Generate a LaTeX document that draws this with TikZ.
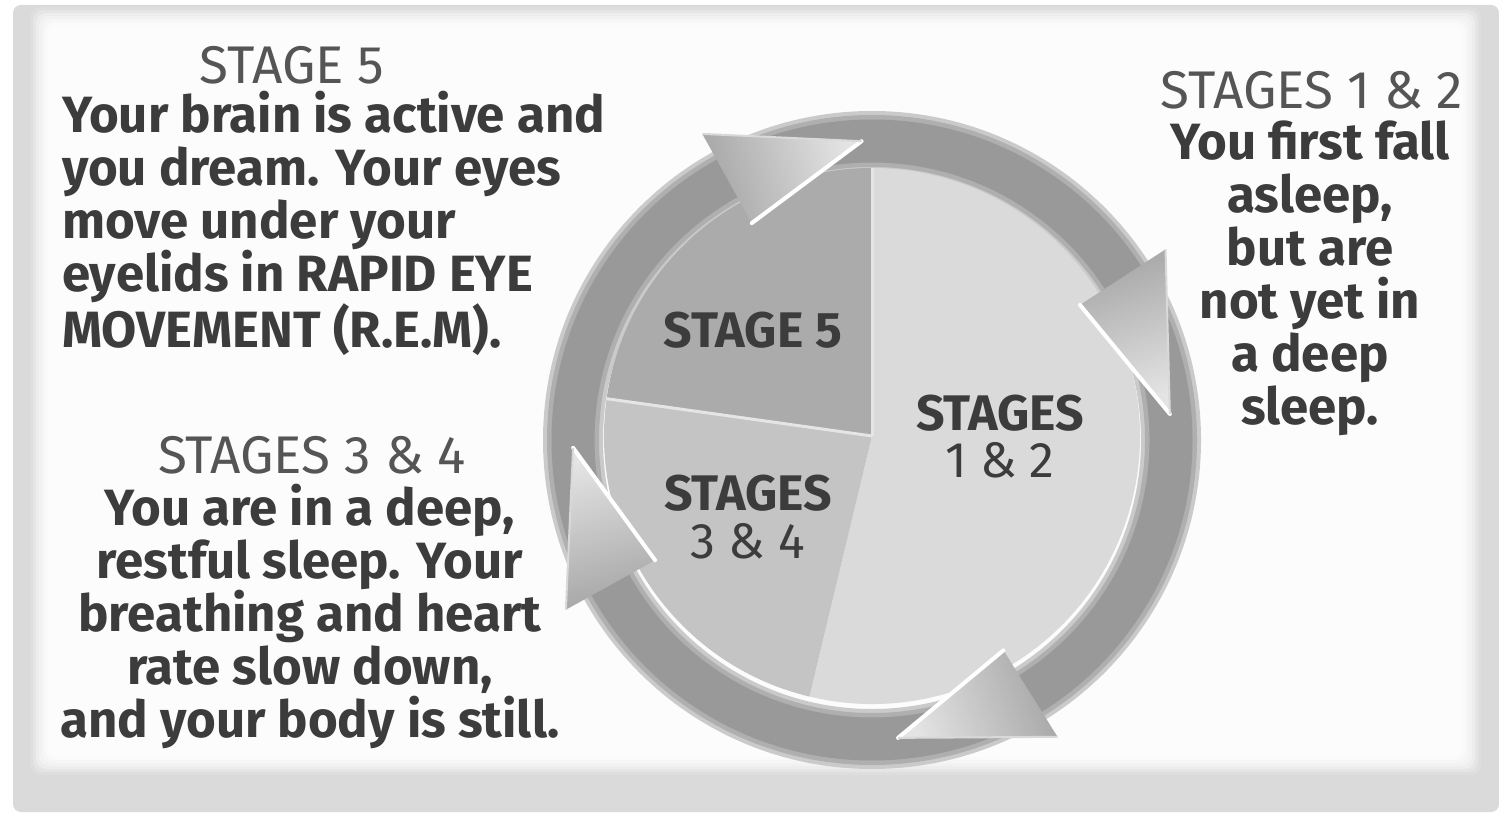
\documentclass[tikz,border=0pt]{standalone}
\usepackage{fontspec}
\setmainfont{Fira Sans}
\usetikzlibrary{calc}
\definecolor{bodytxt}{HTML}{3C3C3C}
\definecolor{headtxt}{HTML}{555555}
\definecolor{sfive}{HTML}{ABABAB}
\definecolor{sthree}{HTML}{C4C4C4}
\definecolor{sone}{HTML}{DADADA}
\definecolor{ringc}{HTML}{999999}
\definecolor{ringedge}{HTML}{CACACA}
\definecolor{headlight}{HTML}{E4E4E4}
\definecolor{headdark}{HTML}{A6A6A6}
\definecolor{framec}{HTML}{DADADA}
\newcommand\arrhead[3]{%
  \begin{scope}[shift={(R)}]
    \shade[top color=headlight, bottom color=headdark, shading angle=#3] (#1:350) -- (#2:299) -- (#1:248) -- cycle;
    \draw[white, line width=4, line cap=round] (#1:248) -- (#2:299);
    \draw[white!70!gray, line width=2] (#1:350) -- (#2:299);
  \end{scope}}
\begin{document}
\begin{tikzpicture}[x=1pt,y=1pt,
  body/.style={text=bodytxt, font=\fontsize{51}{53}\selectfont\bfseries, inner sep=0pt},
  headtext/.style={text=headtxt, font=\fontsize{53}{53}\selectfont, inner sep=0pt},
  pielab/.style={text=bodytxt, font=\fontsize{50}{48}\selectfont\bfseries, inner sep=0pt, align=center},
]
\useasboundingbox (0,0) rectangle (1499,812);
\fill[white] (0,0) rectangle (1499,812);
\fill[framec, rounded corners=8] (13,0) rectangle (1499,807);
\foreach \i/\c in {0/13,1/10,2/7,3/5,4/3.5,5/2,6/1} {
  \fill[black!\c, rounded corners=10] (30+\i*3,37+\i*3) rectangle (1481-\i*3,805-\i*3);
}
% ring
\coordinate (R) at (872,372);
\coordinate (P) at (872,376);
\draw[ringedge, line width=60] (R) circle[radius=299];
\draw[ringc!55!ringedge, line width=52] (R) circle[radius=299];
\draw[ringc, line width=43] (R) circle[radius=299];
% pie
\fill[sone] (P) -- ++(256.5:268) arc[start angle=256.5, end angle=450, radius=268] -- cycle;
\fill[sthree] (P) -- ++(172:268) arc[start angle=172, end angle=256.5, radius=268] -- cycle;
\fill[sfive] (P) -- ++(90:268) arc[start angle=90, end angle=172, radius=268] -- cycle;
\draw[white!80!gray, line width=3] (P) -- ++(90:268);
\draw[white!80!gray, line width=3] (P) -- ++(172:268);
% arrow heads
\arrhead{119}{92}{-74.5}
\arrhead{33}{5}{-161}
\arrhead{-58}{-85}{108.5}
\arrhead{209}{181.5}{15}
% pie labels
\node[pielab, anchor=base] (l5) at (753,464) {STAGE 5};
\node[pielab, anchor=base] (l12) at (1000,334) {STAGES\\\mdseries 1 \& 2};
\node[pielab, anchor=base] (l34) at (748,254) {STAGES\\\mdseries 3 \& 4};
% text blocks
\node[headtext, anchor=base] (h5) at (292,728) {STAGE 5};
\node[body, align=left, anchor=base west] (t5) at (62,464) {Your brain is active and\\you dream. Your eyes\\move under your\\eyelids in RAPID EYE\\MOVEMENT (R.E.M).};
\node[headtext, anchor=base] (h34) at (312,338) {STAGES 3 \& 4};
\node[body, align=center, anchor=base] (t34) at (310,75) {You are in a deep,\\restful sleep. Your\\breathing and heart\\rate slow down,\\and your body is still.};
\node[headtext, anchor=base] (h12) at (1312,703) {STAGES 1 \& 2};
\node[body, align=center, anchor=base] (t12) at (1310,387) {You first fall\\asleep,\\but are\\not yet in\\a deep\\sleep.};
\end{tikzpicture}
\end{document}
